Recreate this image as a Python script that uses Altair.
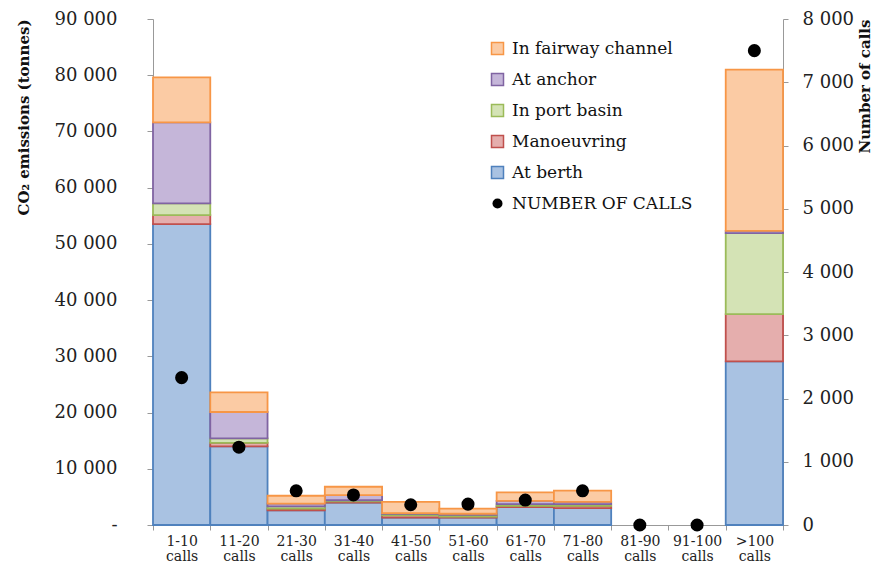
import altair as alt
import pandas as pd

categories = ["1-10", "11-20", "21-30", "31-40", "41-50", "51-60",
              "61-70", "71-80", "81-90", "91-100", ">100"]

series_names = ["At berth", "Manoeuvring", "In port basin", "At anchor", "In fairway channel"]
at_berth = [53500, 14000, 2600, 4000, 1300, 1300, 3200, 3000, 0, 0, 29100]
manoeuvring = [1600, 600, 300, 200, 400, 200, 200, 400, 0, 0, 8400]
in_port_basin = [2100, 800, 400, 200, 300, 300, 300, 300, 0, 0, 14400]
at_anchor = [14400, 4700, 500, 900, 100, 200, 600, 400, 0, 0, 400]
in_fairway = [8000, 3500, 1400, 1500, 2000, 900, 1500, 2000, 0, 0, 28700]

number_of_calls = [2330, 1230, 540, 475, 320, 330, 395, 540, 0, 0, 7500]

fill_colors = {"In fairway channel": "#FBCBA4", "At anchor": "#C5B6D9",
               "In port basin": "#D4E3B5", "Manoeuvring": "#E5AEAD", "At berth": "#A9C2E2"}
stroke_colors = {"In fairway channel": "#F79646", "At anchor": "#8064A2",
                 "In port basin": "#9BBB59", "Manoeuvring": "#C0504D", "At berth": "#4F81BD"}

series_values = [at_berth, manoeuvring, in_port_basin, at_anchor, in_fairway]
rows = []
for k, (name, vals) in enumerate(zip(series_names, series_values)):
    for i, c in enumerate(categories):
        if vals[i] > 0:
            rows.append({"cat": c, "series": name, "value": vals[i], "order": k})
bars_df = pd.DataFrame(rows)
calls_df = pd.DataFrame({"cat": categories, "calls": number_of_calls,
                         "label": ["NUMBER OF CALLS"] * len(categories)})

legend_order = list(reversed(series_names))

x_enc = alt.X(
    "cat:N",
    sort=categories,
    scale=alt.Scale(domain=categories, paddingInner=0, paddingOuter=0),
    axis=alt.Axis(
        title=None,
        labelExpr="datum.label ? [datum.label, 'calls'] : ''",
        tickBand="extent",
        labelAngle=0,
        labelFlush=False,
        labelOverlap=False,
        labelFontSize=14,
        labelLineHeight=15,
        labelPadding=4,
        tickSize=5,
        domainColor="#999999",
        tickColor="#999999",
        labelColor="#222222",
    ),
)

bar_legend = alt.Legend(title=None, orient="none", legendX=336, legendY=21,
                        symbolType="square", symbolSize=144, rowPadding=12,
                        labelFontSize=17, labelOffset=6, labelLimit=400,
                        symbolStrokeWidth=1.5)

bars = alt.Chart(bars_df).mark_bar(strokeWidth=1.8, opacity=1).encode(
    x=x_enc,
    y=alt.Y(
        "value:Q",
        stack="zero",
        scale=alt.Scale(domain=[0, 90000], nice=False),
        axis=alt.Axis(
            title="CO₂ emissions (tonnes)",
            values=list(range(0, 90001, 10000)),
            labelExpr="datum.value == 0 ? '-' : replace(format(datum.value, ','), regexp(',', 'g'), ' ')",
            grid=False,
            tickSize=6,
            labelPadding=30,
            titlePadding=23,
            titleAnchor="end",
            titleFontWeight="bold",
            titleFontSize=15,
            labelFontSize=18,
            domainColor="#999999",
            tickColor="#999999",
            labelColor="#222222",
            titleColor="#111111",
        ),
    ),
    fill=alt.Fill(
        "series:N",
        scale=alt.Scale(domain=legend_order, range=[fill_colors[s] for s in legend_order]),
        legend=bar_legend,
    ),
    stroke=alt.Stroke(
        "series:N",
        scale=alt.Scale(domain=legend_order, range=[stroke_colors[s] for s in legend_order]),
        legend=bar_legend,
    ),
    order=alt.Order("order:Q", sort="ascending"),
)

points = alt.Chart(calls_df).mark_point(filled=True, color="black", size=170, opacity=1).encode(
    x=x_enc,
    y=alt.Y(
        "calls:Q",
        scale=alt.Scale(domain=[0, 8000], nice=False),
        axis=alt.Axis(
            orient="right",
            title="Number of calls",
            values=list(range(0, 8001, 1000)),
            labelExpr="replace(format(datum.value, ','), regexp(',', 'g'), ' ')",
            grid=False,
            tickSize=5,
            labelPadding=14,
            titlePadding=19,
            titleAngle=270,
            titleAnchor="end",
            titleFontWeight="bold",
            titleFontSize=15,
            labelFontSize=18,
            domainColor="#999999",
            tickColor="#999999",
            labelColor="#222222",
            titleColor="#111111",
        ),
    ),
    shape=alt.Shape(
        "label:N",
        scale=alt.Scale(domain=["NUMBER OF CALLS"], range=["circle"]),
        legend=alt.Legend(title=None, orient="none", legendX=336, legendY=176,
                          symbolSize=100, symbolFillColor="black", symbolStrokeColor="black",
                          labelFontSize=17, labelOffset=6, labelLimit=400),
    ),
)

chart = alt.layer(bars, points).resolve_scale(
    y="independent", fill="independent", stroke="independent", shape="independent"
).properties(
    width=630, height=506,
    autosize=alt.AutoSizeParams(type="none"),
    padding={"left": 145, "top": 11, "right": 92, "bottom": 41},
).configure(
    font="DejaVu Serif",
).configure_view(
    stroke=None
).configure_legend(
    labelColor="#111111",
)

chart.save("out.html", embed_options={"renderer": "svg", "actions": False})
